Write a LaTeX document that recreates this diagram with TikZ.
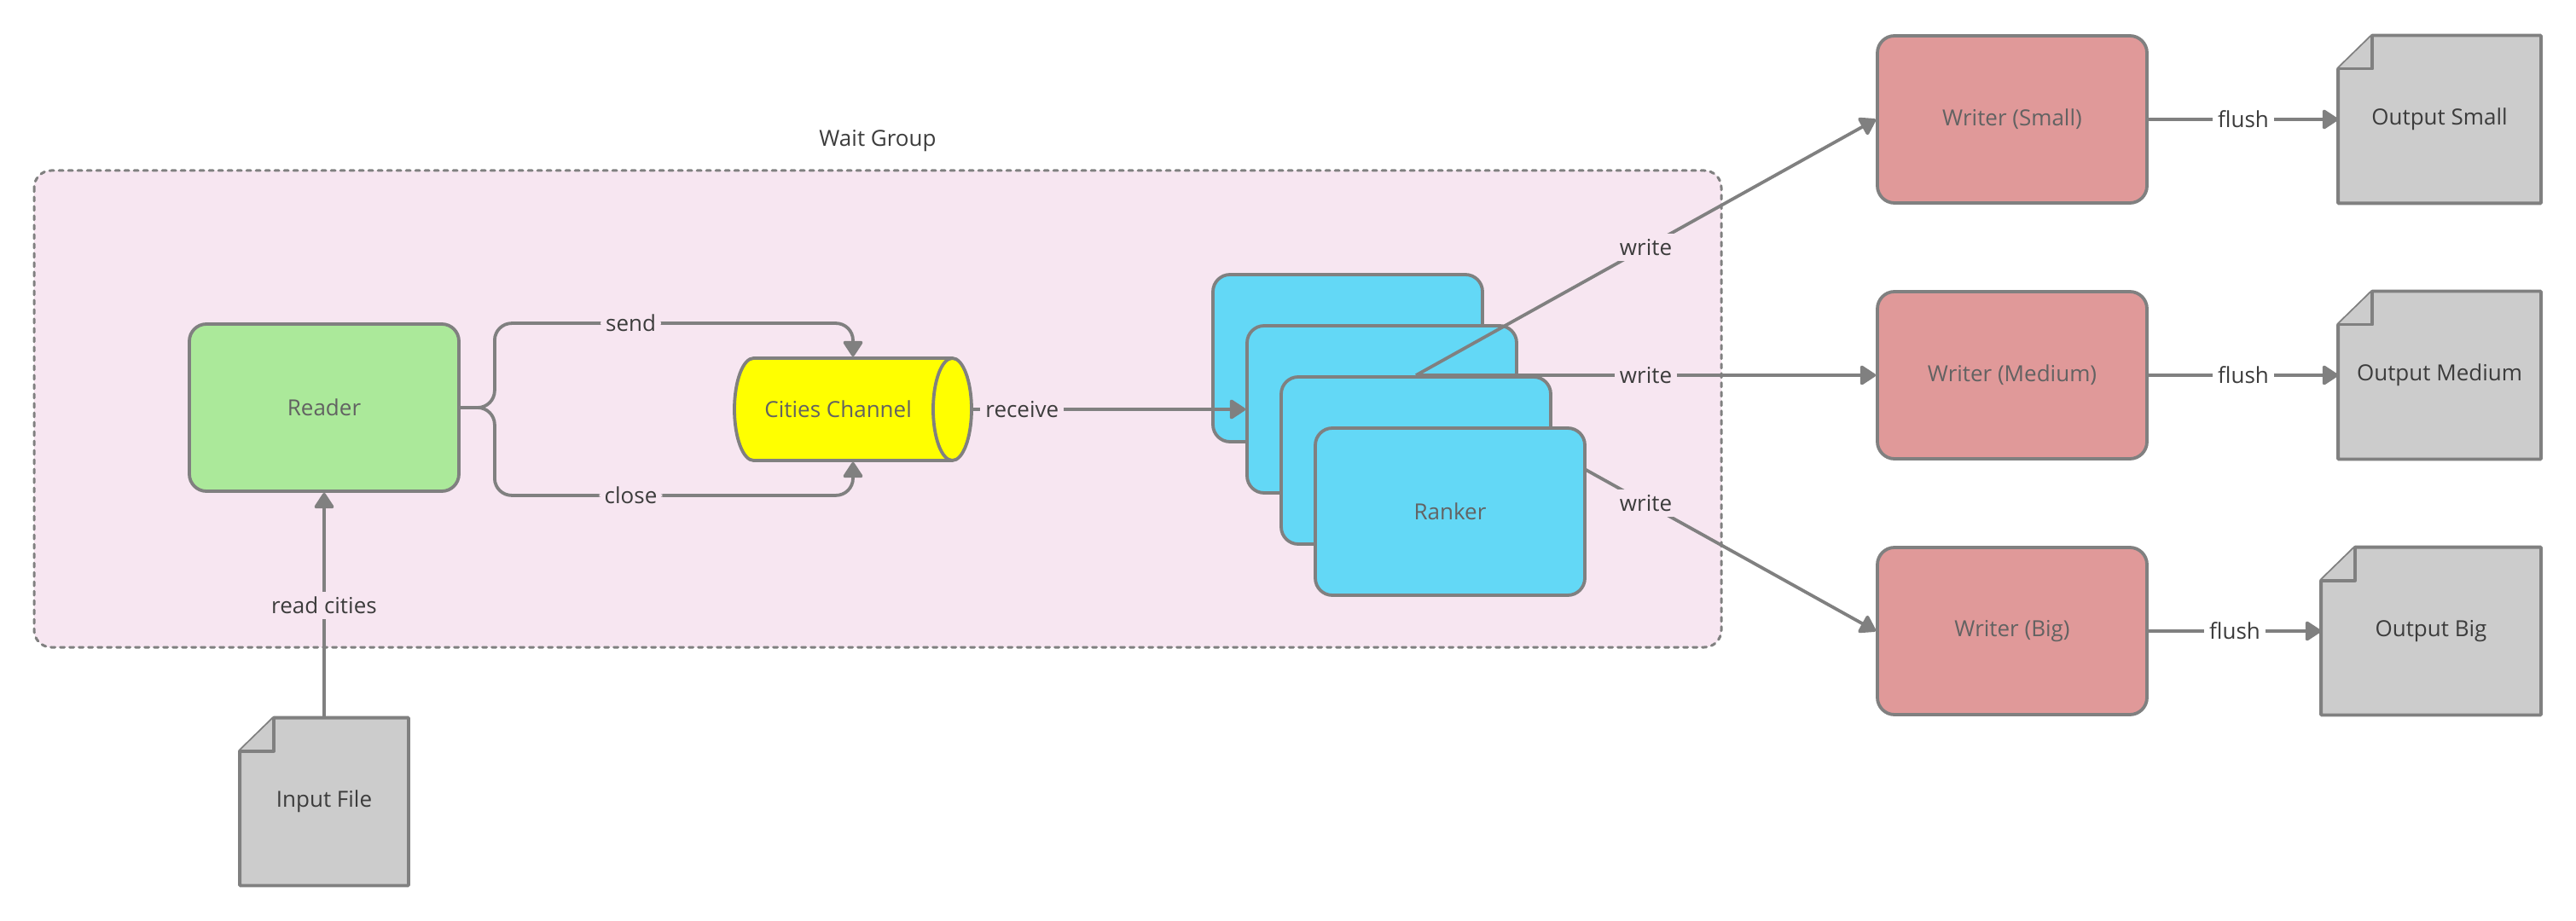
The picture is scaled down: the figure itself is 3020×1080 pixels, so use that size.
\documentclass[tikz,border=0pt]{standalone}
\usepackage{fontspec}
\setmainfont{Open Sans}
\usetikzlibrary{arrows.meta,shapes.geometric,calc}

\definecolor{linegray}{HTML}{808080}
\definecolor{groupfill}{HTML}{F7E6F1}
\definecolor{readerfill}{HTML}{ABE99A}
\definecolor{chanfill}{HTML}{FFFF00}
\definecolor{rankerfill}{HTML}{63D8F6}
\definecolor{writerfill}{HTML}{E09999}
\definecolor{docfill}{HTML}{CCCCCC}
\definecolor{nodetext}{HTML}{626262}
\definecolor{labeltext}{HTML}{3C3C3C}

\pgfdeclarelayer{back}
\pgfdeclarelayer{front}
\pgfsetlayers{back,main,front}

\tikzset{
  txt/.style={font=\fontsize{13}{16}\selectfont},
  groupbox/.style={draw=linegray, fill=groupfill, line width=1.5pt, line cap=round,
    dash pattern=on 2.5pt off 3pt, rounded corners=10pt},
  procbox/.style={txt, draw=linegray, line width=1.9pt, rounded corners=10pt,
    minimum width=158pt, minimum height=98pt, text=nodetext},
  docbox/.style={txt, text=labeltext, minimum height=98pt, inner sep=0pt},
  docshape/.style={draw=linegray, fill=docfill, line width=1.9pt, line join=round},
  chanbox/.style={txt, cylinder, draw=linegray, line width=1.9pt, fill=chanfill,
    text=nodetext, aspect=1.35, minimum width=60pt, minimum height=139pt,
    anchor=shape center},
  link/.style={draw=linegray, line width=1.9pt},
  conn/.style={link, -{Triangle[length=10pt,width=12.5pt,round]}},
  lbl/.style={txt, text=labeltext, fill=groupfill, inner sep=3pt},
  lblout/.style={lbl, fill=white},
}

\begin{document}
\begin{tikzpicture}[x=0.5pt, y=-0.5pt]
  \useasboundingbox (0,0) rectangle (3020,1080);

  % wait group
  \draw[groupbox] (40,200) rectangle (2018,759);
  \node[txt, text=labeltext] (wglabel) at (1029,165) {Wait Group};

  \node[procbox, fill=readerfill] (reader) at (380,478) {Reader};
  \node[chanbox] (channel) at (1000,480) {Cities Channel};
  \node[docbox, minimum width=98.5pt] (input) at (380,940) {Input File};

  % ranker stack
  \node[procbox, fill=rankerfill] (ranker1) at (1580,420) {};
  \node[procbox, fill=rankerfill] (ranker2) at (1620,480) {};
  \begin{pgfonlayer}{front}
    \node[procbox, fill=rankerfill] (ranker3) at (1660,540) {};
    \node[procbox, fill=rankerfill, text=labeltext!80] (ranker4) at (1700,600) {Ranker};
  \end{pgfonlayer}

  \node[procbox, fill=writerfill] (writerS) at (2359,140) {Writer (Small)};
  \node[procbox, fill=writerfill] (writerM) at (2359,440) {Writer (Medium)};
  \node[procbox, fill=writerfill] (writerB) at (2359,740) {Writer (Big)};

  \node[docbox, minimum width=118.5pt] (outS) at (2860,140) {Output Small};
  \node[docbox, minimum width=118.5pt] (outM) at (2860,440) {Output Medium};
  \node[docbox, minimum width=128.5pt] (outB) at (2850,740) {Output Big};

  % paper sheets with folded corner
  \begin{pgfonlayer}{back}
    \foreach \d in {input,outS,outM,outB} {
      \draw[docshape] ($(\d.north west)+(40,0)$) -- (\d.north east) -- (\d.south east)
        -- (\d.south west) -- ($(\d.north west)+(0,39)$) -- cycle;
      \draw[docshape] ($(\d.north west)+(40,0)$) -- ++(0,39) -- ++(-40,0);
    }
  \end{pgfonlayer}

  \draw[conn] (input.north) -- node[lbl]{read cities} (reader.south);
  \draw[conn, rounded corners=10pt] (reader.east) -- ++(40,0)
    |- node[lbl, pos=0.69]{send} ($(channel.shape center |- channel.north)+(0,-39)$)
    -- (channel.shape center |- channel.north);
  \draw[conn, rounded corners=10pt] (reader.east) -- ++(40,0)
    |- node[lbl, pos=0.69]{close} ($(channel.shape center |- channel.south)+(0,39)$)
    -- (channel.shape center |- channel.south);
  \draw[conn] (channel.east) -- node[lbl, pos=0.18]{receive} (ranker2.west);

  \draw[conn] (ranker3.north) -- node[lbl]{write} (writerS.west);
  \draw[conn] (ranker3.north) -- node[lbl]{write} (writerM.west);
  \draw[conn] (ranker3.north) -- node[lbl]{write} (writerB.west);

  \draw[conn] (writerS.east) -- node[lblout]{flush} (outS.west);
  \draw[conn] (writerM.east) -- node[lblout]{flush} (outM.west);
  \draw[conn] (writerB.east) -- node[lblout]{flush} (outB.west);
\end{tikzpicture}
\end{document}
